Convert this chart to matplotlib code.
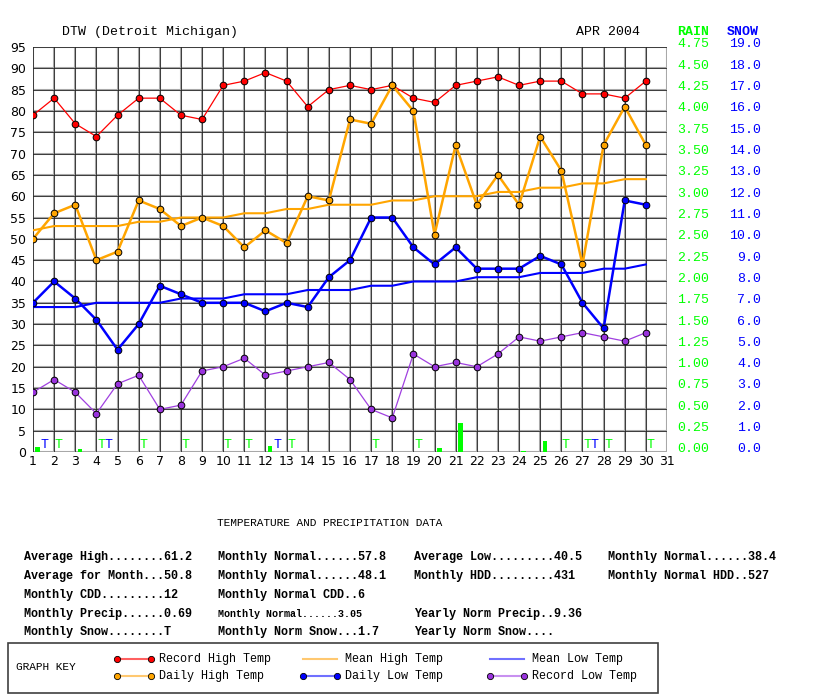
import numpy as np
import matplotlib
matplotlib.use("Agg")
import matplotlib.pyplot as plt

# ---- data, DTW april 2004
days = list(range(1, 31))
record_high = [79, 83, 77, 74, 79, 83, 83, 79, 78, 86, 87, 89, 87, 81, 85,
               86, 85, 86, 83, 82, 86, 87, 88, 86, 87, 87, 84, 84, 83, 87]
daily_high = [50, 56, 58, 45, 47, 59, 57, 53, 55, 53, 48, 52, 49, 60, 59,
              78, 77, 86, 80, 51, 72, 58, 65, 58, 74, 66, 44, 72, 81, 72]
mean_high = [52, 53, 53, 53, 53, 54, 54, 55, 55, 55, 56, 56, 57, 57, 58,
             58, 58, 59, 59, 60, 60, 60, 61, 61, 62, 62, 63, 63, 64, 64]
daily_low = [35, 40, 36, 31, 24, 30, 39, 37, 35, 35, 35, 33, 35, 34, 41,
             45, 55, 55, 48, 44, 48, 43, 43, 43, 46, 44, 35, 29, 59, 58]
mean_low = [34, 34, 34, 35, 35, 35, 35, 36, 36, 36, 37, 37, 37, 38, 38,
            38, 39, 39, 40, 40, 40, 41, 41, 41, 42, 42, 42, 43, 43, 44]
record_low = [14, 17, 14, 9, 16, 18, 10, 11, 19, 20, 22, 18, 19, 20, 21,
              17, 10, 8, 23, 20, 21, 20, 23, 27, 26, 27, 28, 27, 26, 28]
# 'T' = trace
rain = [0.06, 'T', 0.03, 'T', 0, 'T', 0, 'T', 0, 'T', 'T', 0.07, 'T', 0, 0,
        0, 'T', 0, 'T', 0.05, 0.34, 0, 0, 0.01, 0.13, 'T', 'T', 'T', 0, 'T']
snow = ['T', 0, 0, 'T', 0, 0, 0, 0, 0, 0, 0, 'T', 0, 0, 0,
        0, 0, 0, 0, 0, 0, 0, 0, 0, 0, 0, 'T', 0, 0, 0]

temp_ticks = list(range(0, 96, 5))
rain_labels = ["%.2f" % (t * 0.05) for t in temp_ticks]
snow_labels = ["%.1f" % (t * 0.2) for t in temp_ticks]

stats_rows = [
    ["Average High........61.2", "Monthly Normal......57.8", "Average Low.........40.5", "Monthly Normal......38.4"],
    ["Average for Month...50.8", "Monthly Normal......48.1", "Monthly HDD.........431", "Monthly Normal HDD..527"],
    ["Monthly CDD.........12", "Monthly Normal CDD..6", "", ""],
    ["Monthly Precip......0.69", "Monthly Normal......3.05", "Yearly Norm Precip..9.36", ""],
    ["Monthly Snow........T", "Monthly Norm Snow...1.7", "Yearly Norm Snow....", ""],
]

GREEN = '#00ff00'
BLUE = '#0000ff'
ORANGE = '#ffa500'
RED = '#ff0000'
PURPLE = '#9933dd'
MONO = 'Liberation Mono'

fig = plt.figure(figsize=(8.13, 6.96), dpi=100)
ax = fig.add_axes([33 / 813, 1 - 452 / 696, 634 / 813, 405 / 696])
ax.set_xlim(1, 31)
ax.set_ylim(0, 95)

# grid: gray halo + thin black line
for x in range(1, 32):
    ax.axvline(x, color='#a8a8a8', lw=1.5, zorder=0)
    ax.axvline(x, color='#202020', lw=0.55, zorder=0.5)
for y in temp_ticks:
    ax.axhline(y, color='#a8a8a8', lw=1.5, zorder=0)
    ax.axhline(y, color='#202020', lw=0.55, zorder=0.5)
for s in ax.spines.values():
    s.set_visible(False)

ax.set_xticks(range(1, 32))
ax.set_yticks(temp_ticks)
ax.tick_params(length=0, labelsize=9, pad=2)
ax.tick_params(axis='y', pad=5)

# precip bars and traces
d = np.array(days)
rain_amt = np.array([r if r != 'T' else 0 for r in rain], dtype=float)
ax.bar(d + 0.22, rain_amt * 20, width=0.22, color=GREEN, zorder=2)
for dd, r in zip(days, rain):
    if r == 'T':
        ax.text(dd + 0.22, 0.2, 'T', color=GREEN, family=MONO, fontsize=9.5,
                ha='center', va='bottom', zorder=3)
for dd, s in zip(days, snow):
    if s == 'T':
        ax.text(dd + 0.55, 0.2, 'T', color=BLUE, family=MONO, fontsize=9.5,
                ha='center', va='bottom', zorder=3)

mk = dict(marker='o', markersize=4.8, markeredgecolor='black', markeredgewidth=0.7)
ax.plot(days, mean_high, color=ORANGE, lw=1.5, zorder=3)
ax.plot(days, mean_low, color=BLUE, lw=1.5, zorder=3)
ax.plot(days, record_high, color=RED, lw=0.9, markerfacecolor=RED, zorder=4, **mk)
ax.plot(days, daily_high, color=ORANGE, lw=1.8, markerfacecolor=ORANGE, zorder=4, **mk)
ax.plot(days, daily_low, color=BLUE, lw=1.8, markerfacecolor=BLUE, zorder=4, **mk)
ax.plot(days, record_low, color='#a040e0', lw=0.9, markerfacecolor=PURPLE, zorder=4, **mk)

# right side scales
tr = ax.get_yaxis_transform()
for t, rl, sl in zip(temp_ticks, rain_labels, snow_labels):
    ax.text((677 - 33) / 634, t + 0.6, rl, transform=tr, color=GREEN, family=MONO,
            fontsize=9.5, ha='left', va='center', clip_on=False)
    ax.text((761 - 33) / 634, t + 0.6, sl, transform=tr, color=BLUE, family=MONO,
            fontsize=9.5, ha='right', va='center', clip_on=False)

# overlay in pixel coordinates for the text block and key
ov = fig.add_axes([0, 0, 1, 1], zorder=-1)
ov.set_xlim(0, 813)
ov.set_ylim(696, 0)
ov.axis('off')

ov.text(62, 32, "DTW (Detroit Michigan)", family=MONO, fontsize=9.5, va='center')
ov.text(576, 32, "APR 2004", family=MONO, fontsize=9.5, va='center')
ov.text(677, 32, "RAIN", family=MONO, fontsize=9.5, va='center', color=GREEN, weight='bold')
ov.text(727, 32, "SNOW", family=MONO, fontsize=9.5, va='center', color=BLUE, weight='bold')

ov.text(217, 523, "TEMPERATURE AND PRECIPITATION DATA", family=MONO, fontsize=8,
        va='center')
col_x = [24, 218, 414, 608]
row_y = [557, 576, 595, 614, 632]
for ry, row in zip(row_y, stats_rows):
    for cx, txt in zip(col_x, row):
        fs = 8.5
        if txt.startswith("Monthly Normal......3.05"):
            fs = 7.2
        ov.text(cx, ry, txt, family=MONO, fontsize=fs, va='center', weight='bold')

# graph key
ov.add_patch(plt.Rectangle((8, 643), 650, 50, fill=False, edgecolor='#404040', lw=1.2))
ov.text(16, 667, "GRAPH KEY", family=MONO, fontsize=8, va='center')
key = [
    ("Record High Temp", '#ff6060', RED, 117, 659),
    ("Daily High Temp", '#ffc870', ORANGE, 117, 676),
    ("Mean High Temp", '#ffc870', None, 303, 659),
    ("Daily Low Temp", '#7070ff', BLUE, 303, 676),
    ("Mean Low Temp", '#7070ff', None, 490, 659),
    ("Record Low Temp", '#c890f0', PURPLE, 490, 676),
]
for label, lc, mc, kx, ky in key:
    if mc is None:
        ov.plot([kx, kx + 34], [ky, ky], color=lc, lw=1.5)
    else:
        ov.plot([kx, kx + 34], [ky, ky], color=lc, lw=1.5, marker='o', markersize=4.5,
                markerfacecolor=mc, markeredgecolor='black', markeredgewidth=0.6)
    ov.text(kx + 42, ky, label, family=MONO, fontsize=8.5, va='center')

fig.savefig("out.png", dpi=100)
